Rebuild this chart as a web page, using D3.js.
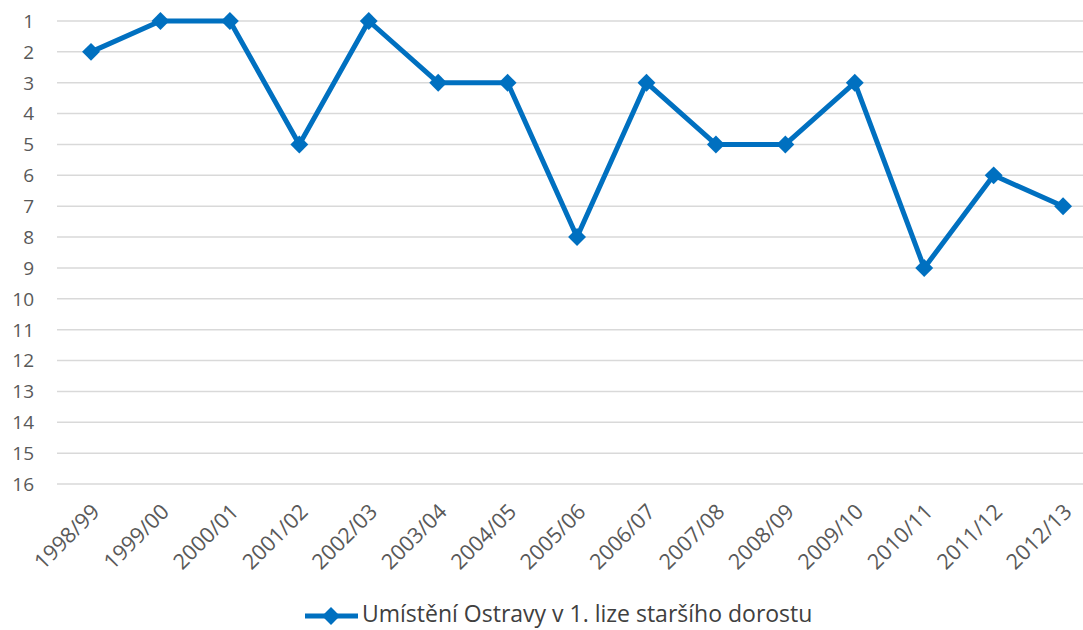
<!DOCTYPE html>
<html><head><meta charset="utf-8">
<script src="https://cdn.jsdelivr.net/npm/d3@7"></script>
<style>body{margin:0;background:#fff}svg{display:block}</style>
</head><body>
<svg id="c" width="1083" height="630"></svg>
<script>
const seasons = ["1998/99","1999/00","2000/01","2001/02","2002/03","2003/04","2004/05","2005/06","2006/07","2007/08","2008/09","2009/10","2010/11","2011/12","2012/13"];
const positions = [2,1,1,5,1,3,3,8,3,5,5,3,9,6,7];
const yTicks = d3.range(1,17);
const seriesName = "Umístění Ostravy v 1. lize staršího dorostu";

const svg = d3.select("#c");
const font = "'Open Sans', 'Noto Sans', sans-serif";
const color = "#0070C0";
const x = d3.scaleBand().domain(seasons).range([56.3, 1097.8]);
const y = d3.scaleLinear().domain([1,16]).range([21, 484]);

// gridlines
svg.append("g").selectAll("line").data(yTicks).join("line")
  .attr("x1", 57).attr("x2", 1083)
  .attr("y1", d => y(d)).attr("y2", d => y(d))
  .attr("stroke", "#d9d9d9").attr("stroke-width", 1.5);

// y labels
svg.append("g").selectAll("text").data(yTicks).join("text")
  .attr("x", 34).attr("y", d => y(d)).attr("dy", "0.36em")
  .attr("text-anchor", "end").attr("font-family", font).attr("font-size", 19)
  .attr("fill", "#595959").text(d => d);

// x labels
svg.append("g").selectAll("text").data(seasons).join("text")
  .attr("transform", d => `translate(${x(d) + x.bandwidth()/2 + 10},${513}) rotate(-45)`)
  .attr("text-anchor", "end").attr("font-family", font).attr("font-size", 21.5)
  .attr("fill", "#595959").text(d => d);

const cx = d => x(d) + x.bandwidth()/2;
const line = d3.line().x((d,i) => cx(seasons[i])).y(d => y(d));
svg.append("path").datum(positions).attr("d", line)
  .attr("fill", "none").attr("stroke", color).attr("stroke-width", 5).attr("stroke-linejoin", "round");

svg.append("g").selectAll("path").data(positions).join("path")
  .attr("d", d3.symbol().type(d3.symbolSquare).size(160))
  .attr("transform", (d,i) => `translate(${cx(seasons[i])},${y(d)}) rotate(45)`)
  .attr("fill", color);

// legend
const lg = svg.append("g");
lg.append("line").attr("x1", 305).attr("x2", 358).attr("y1", 616).attr("y2", 616)
  .attr("stroke", color).attr("stroke-width", 5);
lg.append("path").attr("d", d3.symbol().type(d3.symbolSquare).size(160))
  .attr("transform", "translate(331,616) rotate(45)").attr("fill", color);
lg.append("text").attr("x", 362).attr("y", 614).attr("dy", "0.36em")
  .attr("font-family", font).attr("font-size", 23).attr("fill", "#404040").text(seriesName);
</script>
</body></html>
